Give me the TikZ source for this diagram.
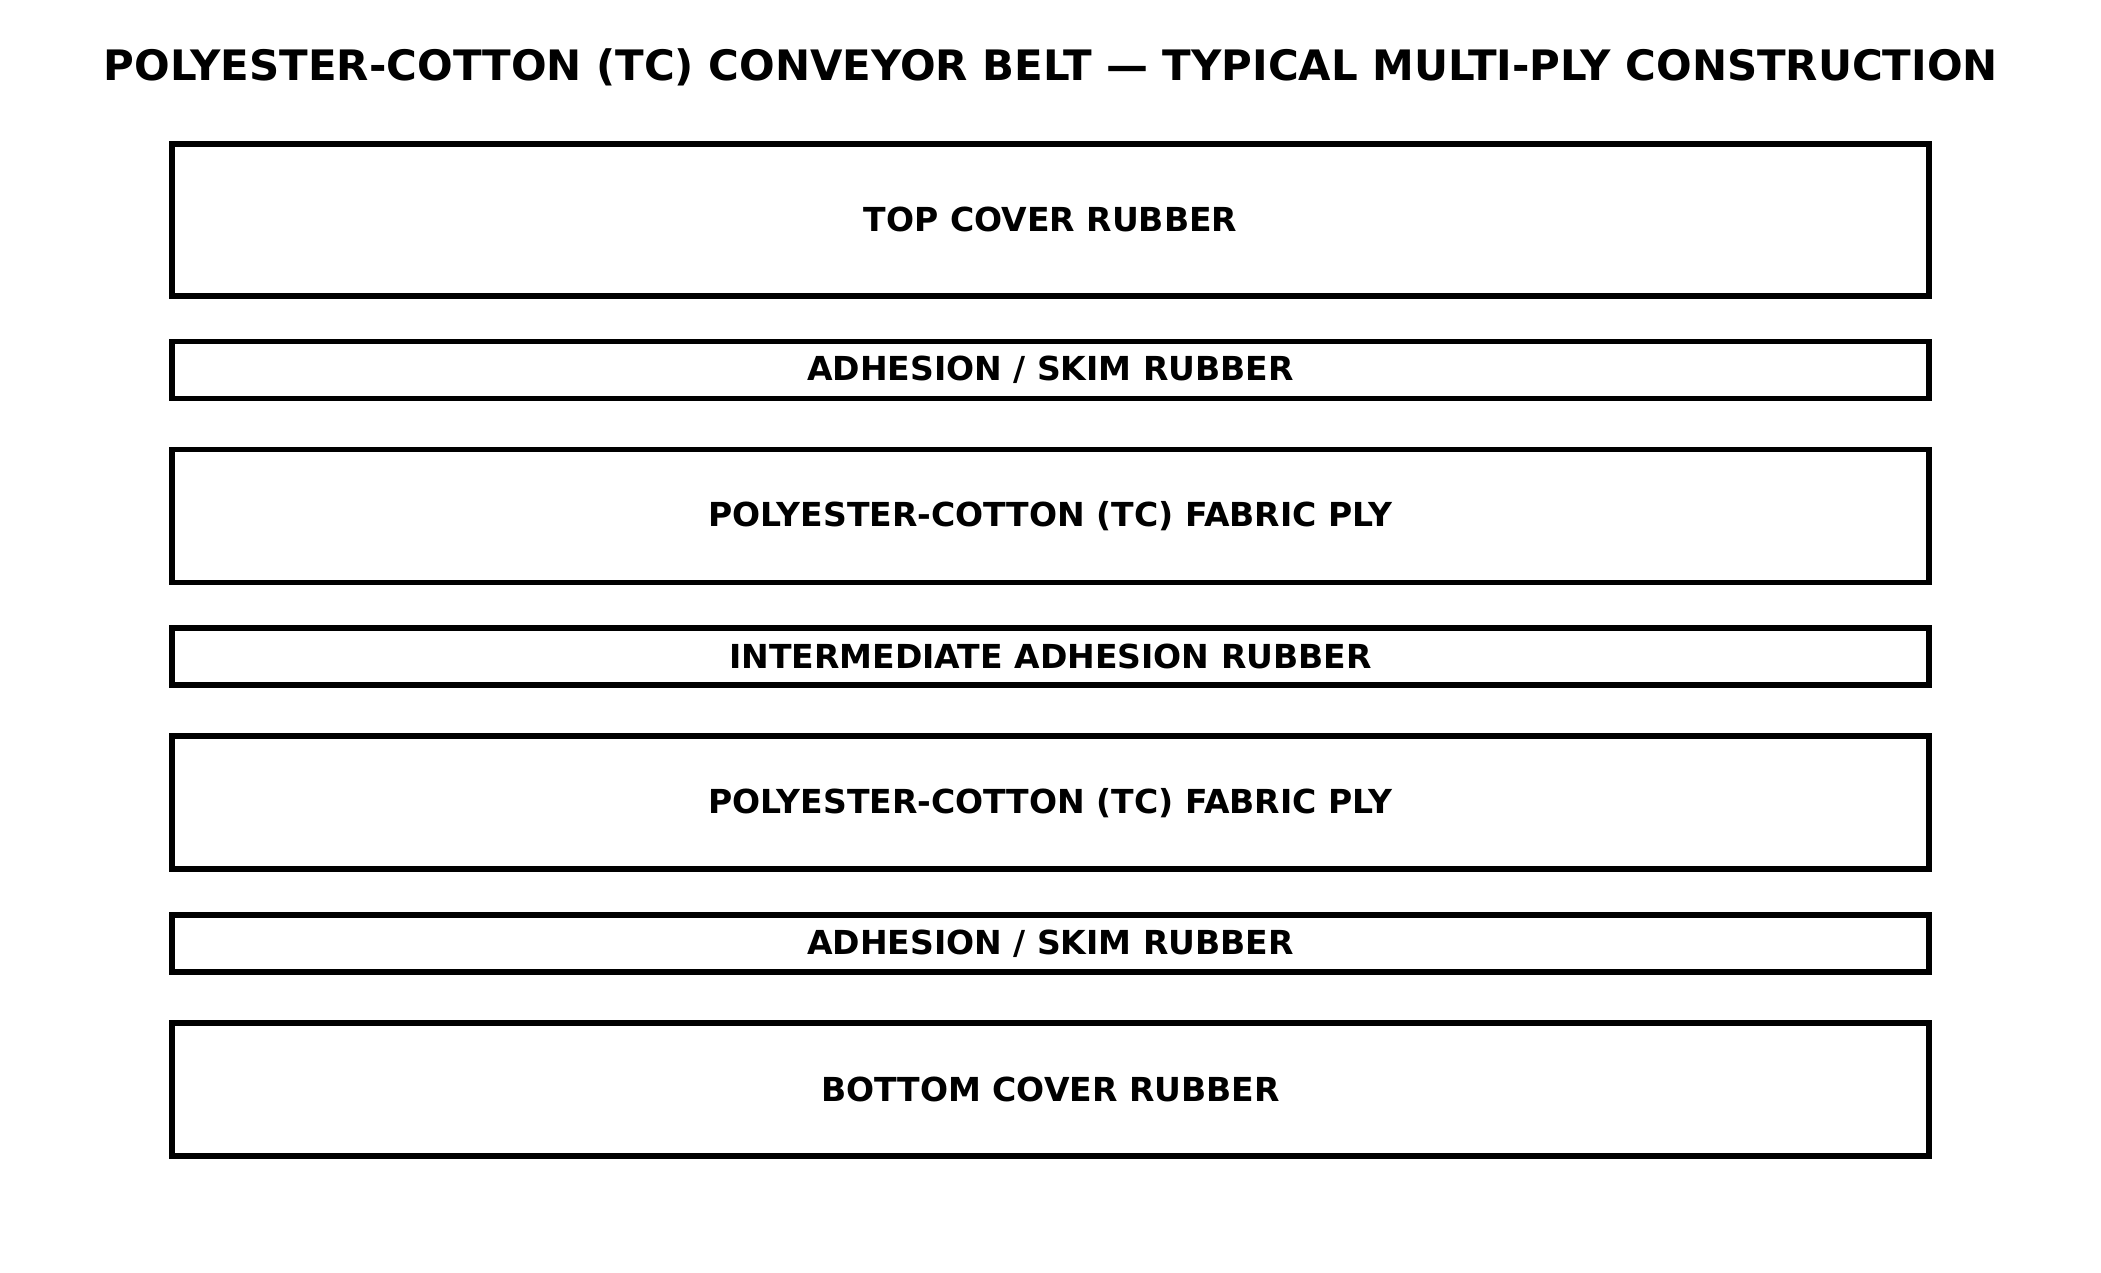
\documentclass[tikz,border=0pt]{standalone}
\usepackage{fontspec}
\setmainfont{DejaVu Sans}
\usetikzlibrary{positioning}

\begin{document}
\begin{tikzpicture}[
		layer/.style={draw, line width=1.6pt, minimum width=17.57cm, inner sep=0pt, font=\bfseries\fontsize{9.4}{11}\selectfont},
		cover/.style={layer, minimum height=1.52cm},
		ply/.style={layer, minimum height=1.33cm},
		skim/.style={layer, minimum height=0.57cm}
	]
		\useasboundingbox (0,0) rectangle (21.01,12.72);
		\node[font=\bfseries\fontsize{11.93}{14}\selectfont] (title) at (10.51,12.05) {POLYESTER-COTTON (TC) CONVEYOR BELT — TYPICAL MULTI-PLY CONSTRUCTION};
		\node[cover] (topcover) at (10.505,10.523) {TOP COVER RUBBER};
		\node[skim, below=0.40cm of topcover] (skimtop) {ADHESION / SKIM RUBBER};
		\node[ply, below=0.455cm of skimtop] (plyone) {POLYESTER-COTTON (TC) FABRIC PLY};
		\node[skim, below=0.40cm of plyone] (interadh) {INTERMEDIATE ADHESION RUBBER};
		\node[ply, below=0.455cm of interadh] (plytwo) {POLYESTER-COTTON (TC) FABRIC PLY};
		\node[skim, below=0.40cm of plytwo] (skimbot) {ADHESION / SKIM RUBBER};
		\node[ply, below=0.455cm of skimbot] (bottomcover) {BOTTOM COVER RUBBER};
	\end{tikzpicture}
\end{document}
